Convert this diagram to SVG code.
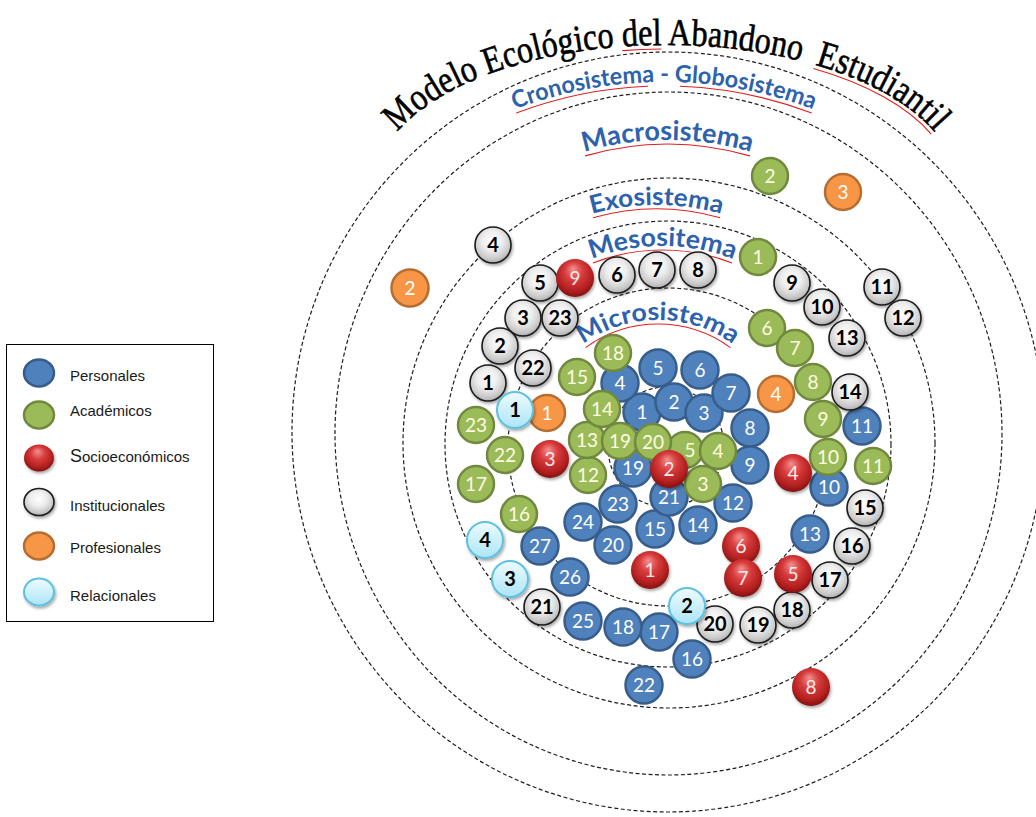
<svg xmlns="http://www.w3.org/2000/svg" xmlns:xlink="http://www.w3.org/1999/xlink" width="1036" height="817" viewBox="0 0 1036 817">
<style>
.ring{fill:none;stroke:#1e1e1e;stroke-width:1.2;stroke-dasharray:4 2.5}
.lbl{font-family:Lato,"Open Sans",sans-serif;font-weight:700;fill:#2d62ad}
.wavy{fill:none;stroke:#e02020;stroke-width:1.1}
.per circle,.per ellipse{fill:#4f81bd;stroke:#385d8a;stroke-width:2.5}
.aca circle,.aca ellipse{fill:#9bbb59;stroke:#71893f;stroke-width:2.5}
.soc circle,.soc ellipse{fill:url(#gRed);filter:url(#sh)}
.ins circle,.ins ellipse{fill:url(#gGray);stroke:#1a1a1a;stroke-width:1.6;filter:url(#sh)}
.pro circle,.pro ellipse{fill:#f79646;stroke:#b66d31;stroke-width:2.5}
.rel circle,.rel ellipse{fill:url(#gRel);stroke:#5fc0e0;stroke-width:2;filter:url(#sh)}
.n text{font-family:Lato,"Open Sans",sans-serif;font-size:19px;text-anchor:middle;fill:#fff}
.aca text{fill:#fffbe3}
.soc text{fill:#ffecec}
.ins text,.rel text{fill:#000;font-weight:700;font-size:20px}
.leg text{font-family:"Liberation Sans",Arial,sans-serif;font-size:15px;font-weight:400;fill:#1a1a1a}
</style>
<defs>
<radialGradient id="gRed" cx="50%" cy="42%" r="60%" fx="45%" fy="25%">
<stop offset="0" stop-color="#f29090"/>
<stop offset="0.4" stop-color="#d83c3c"/>
<stop offset="0.78" stop-color="#b21f1f"/>
<stop offset="1" stop-color="#7a0f0f"/>
</radialGradient>
<radialGradient id="gGray" cx="48%" cy="38%" r="62%">
<stop offset="0" stop-color="#ffffff"/>
<stop offset="0.45" stop-color="#ededed"/>
<stop offset="0.85" stop-color="#c6c6c6"/>
<stop offset="1" stop-color="#a9a9a9"/>
</radialGradient>
<linearGradient id="gRel" x1="0" y1="0" x2="0" y2="1">
<stop offset="0" stop-color="#eefbff"/>
<stop offset="1" stop-color="#ace5f6"/>
</linearGradient>
<filter id="sh" x="-30%" y="-30%" width="170%" height="170%">
<feDropShadow dx="1.2" dy="2" stdDeviation="1.4" flood-color="#000" flood-opacity="0.35"/>
</filter>
<path id="tpTitle" d="M376,185 A290,140 0 0 1 956,185"/>
<path id="tpCrono" d="M464,132.7 A420,420 0 0 1 864,132.7"/>
<path id="tpMacro" d="M517.5,181.1 A294,294 0 0 1 817.5,181.1"/>
<path id="tpExo" d="M506.5,258.2 A238,238 0 0 1 806.5,258.2"/>
<path id="tpMeso" d="M512.5,314.8 A198,198 0 0 1 812.5,314.8"/>
<path id="tpMicro" d="M538,405.4 A127,127 0 0 1 778,405.4"/>
</defs>
<rect width="1036" height="817" fill="#fff"/>

<g id="rings">
<ellipse class="ring" cx="668" cy="432" rx="376" ry="380"/>
<ellipse class="ring" cx="668.5" cy="433.5" rx="333.5" ry="341.5"/>
<ellipse class="ring" cx="669" cy="443" rx="266" ry="265"/>
<ellipse class="ring" cx="668" cy="444" rx="223" ry="223"/>
<ellipse class="ring" cx="668" cy="447" rx="160" ry="159"/>
<ellipse class="ring" cx="666" cy="447" rx="58" ry="60"/>
</g>

<g id="title">
<path class="wavy" d="M380,185 A286,136 0 0 1 952,185" pathLength="1000" stroke-dasharray="0 436 57 225 200 1000"/>
<text font-family="'Liberation Serif','Times New Roman',serif" font-size="38" fill="#000" stroke="#000" stroke-width="0.6"><textPath xlink:href="#tpTitle" href="#tpTitle" startOffset="50%" text-anchor="middle" textLength="580" lengthAdjust="spacingAndGlyphs">Modelo Ecológico del Abandono<tspan dx="8"> Estudiantil</tspan></textPath></text>
</g>

<g id="ring-labels">
<path class="wavy" d="M516.3,113.1 A416,416 0 0 1 648,86.3 M680,86.3 A416,416 0 0 1 811.7,113.1"/>
<text class="lbl" font-size="24"><textPath href="#tpCrono" startOffset="50%" text-anchor="middle" textLength="305" lengthAdjust="spacingAndGlyphs">Cronosistema - Globosistema</textPath></text>
<path class="wavy" d="M585.1,155.9 A290,290 0 0 1 749.9,155.9"/>
<text class="lbl" font-size="27"><textPath href="#tpMacro" startOffset="50%" text-anchor="middle" textLength="169" lengthAdjust="spacingAndGlyphs">Macrosistema</textPath></text>
<path class="wavy" d="M592.9,217.8 A234,234 0 0 1 720.1,217.8"/>
<text class="lbl" font-size="25"><textPath href="#tpExo" startOffset="50%" text-anchor="middle" textLength="131" lengthAdjust="spacingAndGlyphs">Exosistema</textPath></text>
<path class="wavy" d="M593,262.9 A194,194 0 0 1 732,262.9"/>
<text class="lbl" font-size="26"><textPath href="#tpMeso" startOffset="50%" text-anchor="middle" textLength="145" lengthAdjust="spacingAndGlyphs">Mesositema</textPath></text>
<path class="wavy" d="M585.6,347.6 A123,123 0 0 1 730.4,347.6"/>
<text class="lbl" font-size="25"><textPath href="#tpMicro" startOffset="50%" text-anchor="middle" textLength="160" lengthAdjust="spacingAndGlyphs">Microsistema</textPath></text>
</g>

<g id="personales">
<g id="p1" class="n per"><circle cx="642" cy="412" r="18.5"/><text x="642" y="419">1</text></g>
<g id="p2" class="n per"><circle cx="674" cy="402" r="18.5"/><text x="674" y="409">2</text></g>
<g id="p3" class="n per"><circle cx="704" cy="413" r="18.5"/><text x="704" y="420">3</text></g>
<g id="p4" class="n per"><circle cx="620" cy="383" r="18.5"/><text x="620" y="390">4</text></g>
<g id="p5" class="n per"><circle cx="658" cy="368" r="18.5"/><text x="658" y="375">5</text></g>
<g id="p6" class="n per"><circle cx="700" cy="370" r="18.5"/><text x="700" y="377">6</text></g>
<g id="p7" class="n per"><circle cx="731" cy="393" r="18.5"/><text x="731" y="400">7</text></g>
<g id="p8" class="n per"><circle cx="750" cy="428" r="18.5"/><text x="750" y="435">8</text></g>
<g id="p9" class="n per"><circle cx="750" cy="465" r="18.5"/><text x="750" y="472">9</text></g>
<g id="p10" class="n per"><circle cx="829" cy="487" r="18.5"/><text x="829" y="494">10</text></g>
<g id="p11" class="n per"><circle cx="862" cy="426" r="18.5"/><text x="862" y="433">11</text></g>
<g id="p12" class="n per"><circle cx="733" cy="503" r="18.5"/><text x="733" y="510">12</text></g>
<g id="p13" class="n per"><circle cx="810" cy="534" r="18.5"/><text x="810" y="541">13</text></g>
<g id="p14" class="n per"><circle cx="698" cy="525" r="18.5"/><text x="698" y="532">14</text></g>
<g id="p15" class="n per"><circle cx="655" cy="529" r="18.5"/><text x="655" y="536">15</text></g>
<g id="p16" class="n per"><circle cx="692" cy="659" r="18.5"/><text x="692" y="666">16</text></g>
<g id="p17" class="n per"><circle cx="659" cy="632" r="18.5"/><text x="659" y="639">17</text></g>
<g id="p18" class="n per"><circle cx="623" cy="627" r="18.5"/><text x="623" y="634">18</text></g>
<g id="p19" class="n per"><circle cx="633" cy="468" r="18.5"/><text x="633" y="475">19</text></g>
<g id="p20" class="n per"><circle cx="613" cy="545" r="18.5"/><text x="613" y="552">20</text></g>
<g id="p21" class="n per"><circle cx="669" cy="497" r="18.5"/><text x="669" y="504">21</text></g>
<g id="p22" class="n per"><circle cx="644" cy="685" r="18.5"/><text x="644" y="692">22</text></g>
<g id="p23" class="n per"><circle cx="618" cy="504" r="18.5"/><text x="618" y="511">23</text></g>
<g id="p24" class="n per"><circle cx="583" cy="522" r="18.5"/><text x="583" y="529">24</text></g>
<g id="p25" class="n per"><circle cx="583" cy="621" r="18.5"/><text x="583" y="628">25</text></g>
<g id="p26" class="n per"><circle cx="570" cy="577" r="18.5"/><text x="570" y="584">26</text></g>
<g id="p27" class="n per"><circle cx="540" cy="546" r="18.5"/><text x="540" y="553">27</text></g>
</g>

<g id="academicos">
<g id="a1" class="n aca"><circle cx="758" cy="257" r="18"/><text x="758" y="264">1</text></g>
<g id="a2" class="n aca"><circle cx="770" cy="176" r="18"/><text x="770" y="183">2</text></g>
<g id="a5" class="n aca"><circle cx="685" cy="450" r="18"/><text x="690" y="457">5</text></g>
<g id="a4" class="n aca"><circle cx="718" cy="451" r="18"/><text x="718" y="458">4</text></g>
<g id="a3" class="n aca"><circle cx="703" cy="484" r="18"/><text x="703" y="491">3</text></g>
<g id="a6" class="n aca"><circle cx="767" cy="328" r="18"/><text x="767" y="335">6</text></g>
<g id="a7" class="n aca"><circle cx="795" cy="348" r="18"/><text x="795" y="355">7</text></g>
<g id="a8" class="n aca"><circle cx="813" cy="382" r="18"/><text x="813" y="389">8</text></g>
<g id="a9" class="n aca"><circle cx="823" cy="419" r="18"/><text x="823" y="426">9</text></g>
<g id="a10" class="n aca"><circle cx="828" cy="457" r="18"/><text x="828" y="464">10</text></g>
<g id="a11" class="n aca"><circle cx="873" cy="466" r="18"/><text x="873" y="473">11</text></g>
<g id="a12" class="n aca"><circle cx="588" cy="475" r="18"/><text x="588" y="482">12</text></g>
<g id="a13" class="n aca"><circle cx="587" cy="440" r="18"/><text x="587" y="447">13</text></g>
<g id="a19" class="n aca"><circle cx="620" cy="441" r="18"/><text x="620" y="448">19</text></g>
<g id="a20" class="n aca"><circle cx="653" cy="442" r="18"/><text x="653" y="449">20</text></g>
<g id="a14" class="n aca"><circle cx="602" cy="409" r="18"/><text x="602" y="416">14</text></g>
<g id="a15" class="n aca"><circle cx="577" cy="377" r="18"/><text x="577" y="384">15</text></g>
<g id="a16" class="n aca"><circle cx="519" cy="514" r="18"/><text x="519" y="521">16</text></g>
<g id="a17" class="n aca"><circle cx="476" cy="484" r="18"/><text x="476" y="491">17</text></g>
<g id="a18" class="n aca"><circle cx="613" cy="353" r="18"/><text x="613" y="360">18</text></g>
<g id="a22" class="n aca"><circle cx="505" cy="455" r="18"/><text x="505" y="462">22</text></g>
<g id="a23" class="n aca"><circle cx="476" cy="425" r="18"/><text x="476" y="432">23</text></g>
</g>

<g id="institucionales">
<g id="i1" class="n ins"><circle cx="488" cy="383" r="18"/><text x="488" y="390">1</text></g>
<g id="i2" class="n ins"><circle cx="500" cy="346" r="18"/><text x="500" y="353">2</text></g>
<g id="i3" class="n ins"><circle cx="523" cy="318" r="18"/><text x="523" y="325">3</text></g>
<g id="i4" class="n ins"><circle cx="493" cy="245" r="18"/><text x="493" y="252">4</text></g>
<g id="i5" class="n ins"><circle cx="540" cy="283" r="18"/><text x="540" y="290">5</text></g>
<g id="i6" class="n ins"><circle cx="617" cy="275" r="18"/><text x="617" y="282">6</text></g>
<g id="i7" class="n ins"><circle cx="657" cy="270" r="18"/><text x="657" y="277">7</text></g>
<g id="i8" class="n ins"><circle cx="698" cy="270" r="18"/><text x="698" y="277">8</text></g>
<g id="i9" class="n ins"><circle cx="792" cy="283" r="18"/><text x="792" y="290">9</text></g>
<g id="i10" class="n ins"><circle cx="822" cy="307" r="18"/><text x="822" y="314">10</text></g>
<g id="i11" class="n ins"><circle cx="882" cy="287" r="18"/><text x="882" y="294">11</text></g>
<g id="i12" class="n ins"><circle cx="903" cy="318" r="18"/><text x="903" y="325">12</text></g>
<g id="i13" class="n ins"><circle cx="847" cy="338" r="18"/><text x="847" y="345">13</text></g>
<g id="i14" class="n ins"><circle cx="850" cy="392" r="18"/><text x="850" y="399">14</text></g>
<g id="i15" class="n ins"><circle cx="865" cy="508" r="18"/><text x="865" y="515">15</text></g>
<g id="i16" class="n ins"><circle cx="852" cy="546" r="18"/><text x="852" y="553">16</text></g>
<g id="i17" class="n ins"><circle cx="830" cy="580" r="18"/><text x="830" y="587">17</text></g>
<g id="i18" class="n ins"><circle cx="792" cy="610" r="18"/><text x="792" y="617">18</text></g>
<g id="i19" class="n ins"><circle cx="758" cy="625" r="18"/><text x="758" y="632">19</text></g>
<g id="i20" class="n ins"><circle cx="715" cy="624" r="18"/><text x="715" y="631">20</text></g>
<g id="i21" class="n ins"><circle cx="542" cy="607" r="18"/><text x="542" y="614">21</text></g>
<g id="i22" class="n ins"><circle cx="533" cy="368" r="18"/><text x="533" y="375">22</text></g>
<g id="i23" class="n ins"><circle cx="560" cy="318" r="18"/><text x="560" y="325">23</text></g>
</g>

<g id="profesionales">
<g id="o1" class="n pro"><circle cx="547" cy="413" r="18"/><text x="547" y="420">1</text></g>
<g id="o2" class="n pro"><circle cx="410" cy="288" r="18.5"/><text x="410" y="295">2</text></g>
<g id="o3" class="n pro"><circle cx="843" cy="192" r="18"/><text x="843" y="199">3</text></g>
<g id="o4" class="n pro"><circle cx="776" cy="394" r="18"/><text x="776" y="401">4</text></g>
</g>

<g id="socioeconomicos">
<g id="s1" class="n soc"><circle cx="650" cy="570" r="19"/><text x="650" y="577">1</text></g>
<g id="s2" class="n soc"><circle cx="669" cy="469" r="19"/><text x="669" y="476">2</text></g>
<g id="s3" class="n soc"><circle cx="550" cy="459" r="19"/><text x="550" y="466">3</text></g>
<g id="s4" class="n soc"><circle cx="793" cy="473" r="19"/><text x="793" y="480">4</text></g>
<g id="s5" class="n soc"><circle cx="793" cy="574" r="19"/><text x="793" y="581">5</text></g>
<g id="s6" class="n soc"><circle cx="741" cy="546" r="19"/><text x="741" y="553">6</text></g>
<g id="s7" class="n soc"><circle cx="743" cy="578" r="19"/><text x="743" y="585">7</text></g>
<g id="s8" class="n soc"><circle cx="811" cy="687" r="19"/><text x="811" y="694">8</text></g>
<g id="s9" class="n soc"><circle cx="575" cy="278" r="19"/><text x="575" y="285">9</text></g>
</g>

<g id="relacionales">
<g id="r1" class="n rel"><circle cx="515" cy="410" r="18"/><text x="515" y="417">1</text></g>
<g id="r2" class="n rel"><circle cx="687" cy="606" r="18"/><text x="687" y="613">2</text></g>
<g id="r3" class="n rel"><circle cx="510" cy="579" r="18"/><text x="510" y="586">3</text></g>
<g id="r4" class="n rel"><circle cx="485" cy="540" r="18"/><text x="485" y="547">4</text></g>
</g>

<g id="legend" class="leg">
<rect x="6.5" y="344.5" width="207" height="277" fill="#fff" stroke="#000" stroke-width="1"/>
<g id="leg-per" class="per"><ellipse cx="39" cy="373" rx="15" ry="13.5"/><text x="70" y="381">Personales</text></g>
<g id="leg-aca" class="aca"><ellipse cx="39" cy="415" rx="15" ry="13.5"/><text x="70" y="416">Académicos</text></g>
<g id="leg-soc" class="soc"><ellipse cx="39" cy="458" rx="15" ry="13.5"/><text x="70" y="462"><tspan font-size="18">S</tspan>ocioeconómicos</text></g>
<g id="leg-ins" class="ins"><ellipse cx="39" cy="502" rx="15" ry="13.5"/><text x="70" y="511">Institucionales</text></g>
<g id="leg-pro" class="pro"><ellipse cx="39" cy="546" rx="15" ry="13.5"/><text x="70" y="553">Profesionales</text></g>
<g id="leg-rel" class="rel"><ellipse cx="39" cy="592" rx="15" ry="13.5"/><text x="70" y="601">Relacionales</text></g>
</g>
</svg>
